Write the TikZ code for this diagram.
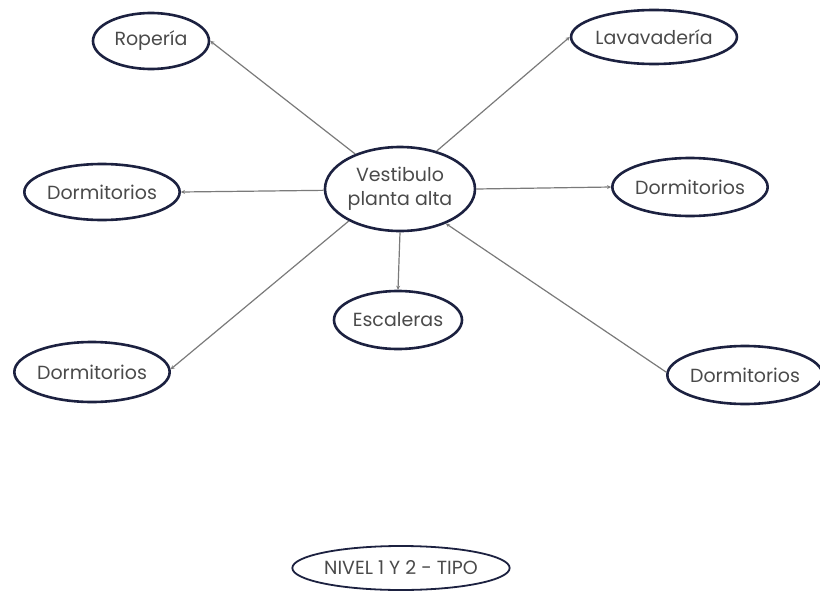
\documentclass[tikz,border=0pt]{standalone}
\usepackage{fontspec}
\setmainfont{Poppins}
\usetikzlibrary{shapes.geometric,arrows.meta}
\definecolor{ringc}{HTML}{1C2140}
\definecolor{txtc}{HTML}{4A4A4A}
\definecolor{linec}{HTML}{7A7A7A}
\tikzset{
  place/.style={ellipse, draw=ringc, line width=2.6pt, inner sep=0pt, text=txtc,
    font=\fontsize{19}{24}\selectfont, align=center},
  link/.style={draw=linec, line width=1.2pt, -{Stealth[length=4pt,width=4pt]}}
}
\begin{document}
\begin{tikzpicture}[x=1pt,y=-1pt]
\useasboundingbox (0,0) rectangle (820,592);
\node[place, minimum width=150pt, minimum height=84pt] (v) at (400,189) {Vestibulo\\planta alta};
\node[place, minimum width=116pt, minimum height=56pt] (rop) at (151,41) {Ropería};
\node[place, minimum width=163pt, minimum height=54pt] (lav) at (654,37) {Lavavadería};
\node[place, minimum width=147pt, minimum height=56pt] (dl) at (102,192) {Dormitorios};
\node[place, minimum width=152pt, minimum height=58pt] (dr) at (690,187) {Dormitorios};
\node[place, minimum width=128pt, minimum height=58pt] (esc) at (398,320) {Escaleras};
\node[place, minimum width=149pt, minimum height=60pt] (dbl) at (92,372) {Dormitorios};
\node[place, minimum width=134pt, minimum height=58pt] (dbr) at (745,375) {Dormitorios};
\node[place, line width=1.8pt, minimum width=216pt, minimum height=44pt] (niv) at (401,568) {NIVEL 1 Y 2 - TIPO};
\draw[link] (v.142.5) -- (rop.0);
\draw[link] (v.46.5) -- (lav.180);
\draw[link] (v.181) -- (dl.0);
\draw[link] (v.0) -- (dr.180);
\draw[link] (v.270) -- (esc.90);
\draw[link] (v.212) -- (dbl.2);
\draw[link] (dbr.178) -- (v.-37.5);
\end{tikzpicture}
\end{document}
